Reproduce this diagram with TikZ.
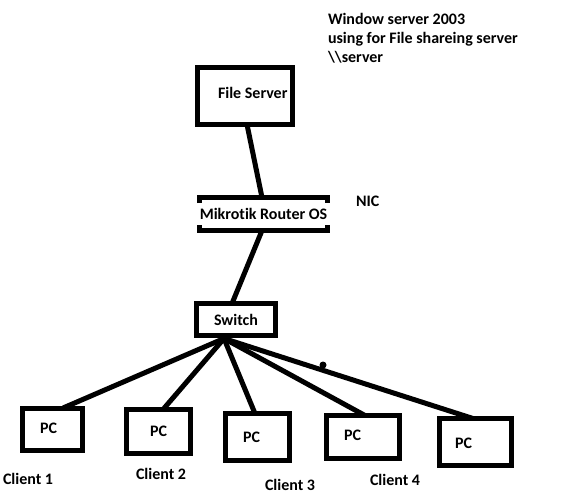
\documentclass[tikz,border=0pt]{standalone}
\usepackage{fontspec}
\setmainfont{Carlito}[Ligatures=NoCommon]
\usetikzlibrary{calc}
\begin{document}
\begin{tikzpicture}[x=1pt,y=-1pt,
  font=\fontsize{16pt}{19pt}\selectfont\bfseries,
  box/.style={draw, rectangle, line width=5pt, inner sep=0pt, outer sep=0pt},
  txt/.style={inner sep=0pt, outer sep=0pt, anchor=base west},
  conn/.style={line width=5pt},
  bracket/.style={line width=5pt}]
\fill[white] (0,0) rectangle (577,496);
\useasboundingbox (0,0) rectangle (577,496);

% top annotation
\node[txt] (top1) at (328,24.5) {Window server 2003};
\node[txt] (top2) at (328,43.5) {using for File shareing server};
\node[txt] (top3) at (328,62.5) {\textbackslash\textbackslash server};

% file server
\node[box, minimum width=95pt, minimum height=57pt] (fs) at (245,96) {};
\node[txt] (fst) at (218,98.5) {File Server};

% router
\node[inner sep=0pt, outer sep=0pt, minimum width=94pt, minimum height=33pt] (rt) at (263.5,214) {Mikrotik Router OS};
\draw[bracket] ($(rt.north west)+(0,5.5)$) -- (rt.north west) -- (rt.north east) -- ++(0,5.5);
\draw[bracket] ($(rt.south west)+(0,-5.5)$) -- (rt.south west) -- (rt.south east) -- ++(0,-5.5);
\node[txt] (nic) at (356,206.5) {NIC};

% switch
\node[box, minimum width=79pt, minimum height=32pt] (sw) at (236,319.5) {Switch};
\coordinate (hub) at ($(sw.south)+(-12,3)$);

% PCs
\node[box, minimum width=60pt, minimum height=42pt] (pc1) at (52.5,429) {};
\node[box, minimum width=64pt, minimum height=44pt] (pc2) at (158.5,431.5) {};
\node[box, minimum width=64pt, minimum height=47pt] (pc3) at (257.5,437) {};
\node[box, minimum width=73pt, minimum height=43pt] (pc4) at (363,437) {};
\node[box, minimum width=72pt, minimum height=47pt] (pc5) at (475.5,442) {};
\node[txt] (pc1t) at (40,433.5) {PC};
\node[txt] (pc2t) at (150,436.5) {PC};
\node[txt] (pc3t) at (243,442.5) {PC};
\node[txt] (pc4t) at (344,440.5) {PC};
\node[txt] (pc5t) at (455,448.5) {PC};

% client labels
\node[txt] (c1) at (3,484.5) {Client 1};
\node[txt] (c2) at (136,479.5) {Client 2};
\node[txt] (c3) at (265,490.5) {Client 3};
\node[txt] (c4) at (370,485.5) {Client 4};

% connectors
\draw[conn] ($(fs.south)+(2,0)$) -- ($(rt.north)+(-1.5,0)$);
\draw[conn] ($(rt.south)+(-1.5,0)$) -- ($(sw.north)+(-4,0)$);
\draw[conn] (hub) -- ($(pc1.north)+(10.5,0)$);
\draw[conn] (hub) -- ($(pc2.north)+(4.5,0)$);
\draw[conn] (hub) -- ($(pc3.north)+(-2.5,0)$);
\draw[conn] (hub) -- ($(pc4.north)+(2,0)$);
\draw[conn] (hub) -- ($(pc5.north)+(-2.5,0)$);
\node[circle, fill, inner sep=0pt, minimum size=7pt] (dot) at (323,365) {};
\end{tikzpicture}
\end{document}
